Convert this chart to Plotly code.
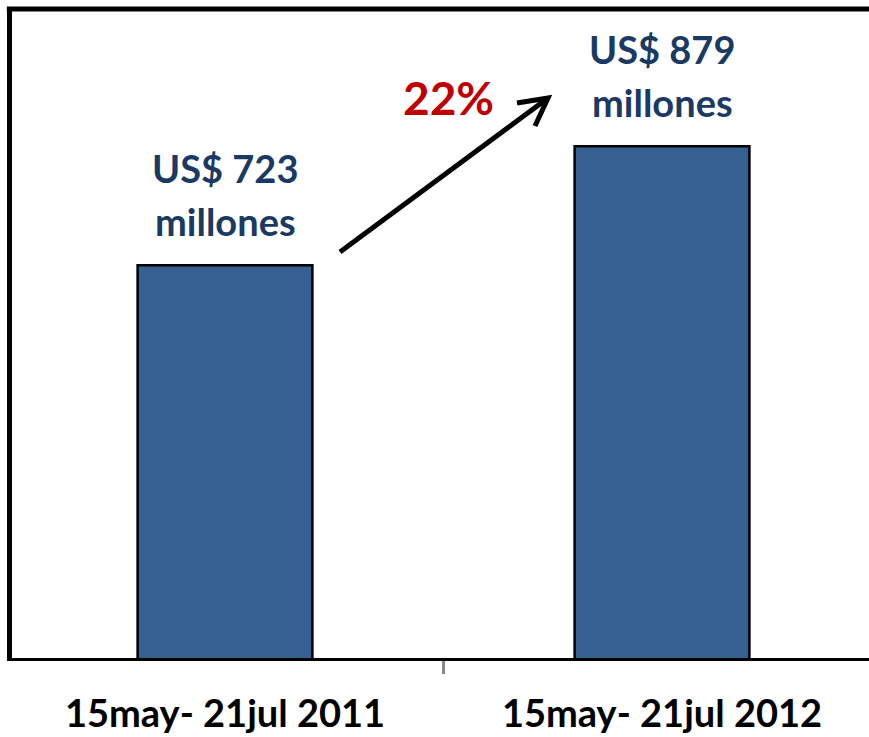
import plotly.graph_objects as go

categories = ["15may- 21jul 2011", "15may- 21jul 2012"]
values = [723, 879]
line1 = ["US$ 723", "US$ 879"]
line2 = ["millones", "millones"]
growth_label = "22%"

W, H = 869, 737
L, R, T, B = 12, 0, 9, 79
Y0 = 208
Y1 = Y0 + (H - T - B) * 1.311
X0 = 0 - (225 - L) / 437
X1 = 1 + (W - R - 662) / 437

def px2data(px, py):
    pw = W - L - R
    ph = H - T - B
    x = X0 + (px - L) / pw * (X1 - X0)
    y = Y0 + (H - B - py) / ph * (Y1 - Y0)
    return x, y

fig = go.Figure()
fig.add_trace(go.Bar(
    x=categories, y=values, width=0.4,
    marker=dict(color="#376092", line=dict(color="black", width=2.5)),
    hoverinfo="skip",
))

font_fam = "Lato, Open Sans, sans-serif"
txt_color = "#1B3A63"
for i, c in enumerate(categories):
    fig.add_annotation(x=c, y=values[i], text=f"<b>{line2[i]}</b>", showarrow=False,
                       yanchor="middle", yshift=44, font=dict(family=font_fam, size=38, color=txt_color))
    fig.add_annotation(x=c, y=values[i], text=f"<b>{line1[i]}</b>", showarrow=False,
                       yanchor="middle", yshift=97, font=dict(family=font_fam, size=38, color=txt_color))

# growth label
gx, gy = px2data(448, 97)
fig.add_annotation(x=gx, y=gy, text=f"<b>{growth_label}</b>", showarrow=False,
                   font=dict(family=font_fam, size=46, color="#C00000"))

# arrow
sx, sy = px2data(340, 252)
tx, ty = px2data(548, 98)
a1x, a1y = px2data(517, 103)
a2x, a2y = px2data(535, 126)
fig.add_shape(type="path", xref="x", yref="y",
              path=f"M {sx},{sy} L {tx},{ty} M {a1x},{a1y} L {tx},{ty} L {a2x},{a2y}",
              line=dict(color="black", width=5))

# top frame line
fig.add_shape(type="line", xref="paper", yref="paper", x0=-0.006, x1=1, y0=1, y1=1,
              line=dict(color="black", width=5))

fig.update_layout(
    width=W, height=H,
    margin=dict(l=L, r=R, t=T, b=B),
    plot_bgcolor="white", paper_bgcolor="white",
    showlegend=False,
    xaxis=dict(type="category", range=[X0, X1], showline=True, linecolor="black", linewidth=3,
               ticks="outside", tickson="boundaries", ticklen=13, tickwidth=3, tickcolor="#8a8a8a",
               ticklabelstandoff=20,
               tickfont=dict(family=font_fam, size=38, color="black"), showgrid=False),
    yaxis=dict(range=[Y0, Y1], showline=True, linecolor="black", linewidth=5,
               showticklabels=False, ticks="", showgrid=False, zeroline=False),
)
fig.update_xaxes(tickprefix="<b>", ticksuffix="</b>")

fig.write_html("out.html", config={"displayModeBar": False},
               post_script="document.body.style.margin='0px';")
